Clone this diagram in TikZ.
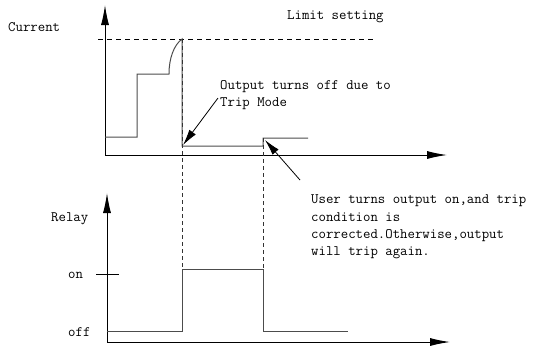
\documentclass[tikz,border=0pt]{standalone}
\usepackage{fontspec}
\usetikzlibrary{arrows.meta}
\begin{document}
\begin{tikzpicture}[x=1bp,y=-1bp,
  axis/.style={line width=1bp,black,-{Latex[length=20bp,width=8bp]}},
  wave/.style={line width=1bp,black!70},
  limitdash/.style={line width=0.9bp,black,dash pattern=on 5bp off 4bp},
  vdash/.style={line width=1bp,black!80,dash pattern=on 4bp off 3bp},
  pointer/.style={line width=0.8bp,black,-{Latex[length=16bp,width=8bp]}},
  lbl/.style={font=\ttfamily\fontsize{14.4bp}{17.3bp}\selectfont,inner sep=0pt,anchor=west,text=black},
]
\useasboundingbox (0,0) rectangle (534,346);
% upper axes
\coordinate (uo) at (105,155);
\coordinate (uy) at (105,5);
\coordinate (ux) at (447,155);
\draw[axis] (uo) -- (uy);
\draw[axis] (uo) -- (ux);
% limit line
\coordinate (l1) at (98,39);
\coordinate (l2) at (373,39);
\draw[limitdash] (l1) -- (l2);
% current waveform
\coordinate (c0) at (105,137);
\coordinate (c1) at (137,137);
\coordinate (c2) at (137,74);
\coordinate (c3) at (169,74);
\coordinate (c4) at (182,39);
\coordinate (c5) at (182,146);
\coordinate (c6) at (263,146);
\coordinate (c7) at (263,138);
\coordinate (c8) at (308,138);
\draw[wave] (c0) -- (c1) -- (c2) -- (c3) .. controls (169,58) and (174,45) .. (c4) -- (c5) -- (c6) -- (c7) -- (c8);
% dashed verticals
\coordinate (d1t) at (182,39);
\coordinate (d1b) at (182,269);
\coordinate (d2t) at (263,138);
\coordinate (d2b) at (263,269);
\draw[vdash] (d1t) -- (d1b);
\draw[vdash] (d2t) -- (d2b);
% relay axes
\coordinate (ro) at (107,342);
\coordinate (ry) at (107,193);
\coordinate (rx) at (450,342);
\draw[axis] (ro) -- (ry);
\draw[axis] (ro) -- (rx);
\coordinate (t1) at (96,274);
\coordinate (t2) at (119,274);
\draw[line width=0.9bp,black] (t1) -- (t2);
% relay waveform
\coordinate (r0) at (107,331);
\coordinate (r1) at (182,331);
\coordinate (r2) at (182,269);
\coordinate (r3) at (263,269);
\coordinate (r4) at (263,331);
\coordinate (r5) at (348,331);
\draw[wave] (r0) -- (r1) -- (r2) -- (r3) -- (r4) -- (r5);
% labels
\node[lbl] (current) at (8,27) {Current};
\node[lbl] (limit) at (287,17) {Limit setting};
\node[lbl,align=left] (offtxt) at (220,95) {Output turns off due to\\Trip Mode};
\node[lbl,align=left] (usertxt) at (311,227) {User turns output on,and trip\\condition is\\corrected.Otherwise,output\\will trip again.};
\node[lbl] (relay) at (51,219) {Relay};
\node[lbl] (on) at (68,275) {on};
\node[lbl] (off) at (68,332) {off};
% pointers
\coordinate (p1s) at (218,98);
\coordinate (p1e) at (183,145);
\coordinate (p2s) at (300,180);
\coordinate (p2e) at (265,140);
\draw[pointer] (p1s) -- (p1e);
\draw[pointer] (p2s) -- (p2e);
\end{tikzpicture}
\end{document}
